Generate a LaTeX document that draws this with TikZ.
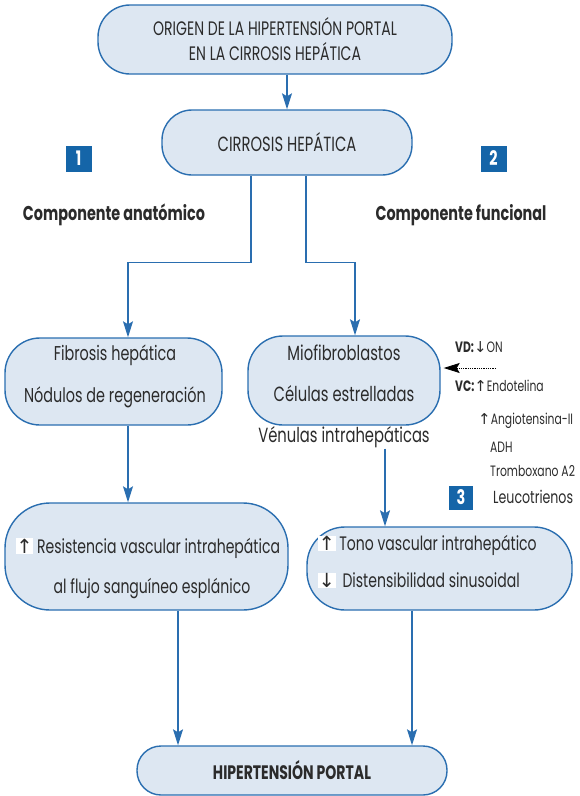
\documentclass[tikz,border=0pt]{standalone}
\usepackage{fontspec}
\setmainfont[FakeStretch=0.72]{Poppins}
\newfontfamily\symfont{DejaVu Sans}
\usepackage{tikz}
\usetikzlibrary{arrows.meta,positioning}
\definecolor{boxblue}{HTML}{2A6EB0}
\definecolor{boxbg}{HTML}{DDE7F2}
\definecolor{numblue}{HTML}{1565A8}
\definecolor{txtgray}{HTML}{2B2B2B}
\newcommand{\up}{{\symfont\char"2191}}
\newcommand{\dn}{{\symfont\char"2193}}
\newcommand{\wup}{\colorbox{white}{\up}}
\newcommand{\wdn}{\colorbox{white}{\dn}}

\begin{document}
\begin{tikzpicture}[x=1pt, y=-1pt,
      box/.style={draw=boxblue, fill=boxbg, line width=1.4pt,
                  rounded corners=#1, inner sep=0pt},
      box/.default=30pt,
      txt/.style={text=txtgray, align=center, inner sep=0pt},
      num/.style={fill=numblue, text=white, font=\fontsize{20}{20}\selectfont\bfseries,
                  minimum size=26pt, inner sep=0pt},
      side/.style={text=txtgray, anchor=west, inner sep=0pt,
                   font=\fontsize{15}{15}\selectfont},
      arr/.style={-{Stealth[length=16pt, width=10pt, inset=3pt]},
                  line width=1.2pt, color=boxblue},
      dotarr/.style={-{Stealth[length=16pt, width=10pt, inset=3pt]},
                     densely dotted, line width=0.8pt, color=black}
  ]
    \useasboundingbox (0,0) rectangle (579,796);
    \setlength{\fboxsep}{0.5pt}
    % main boxes
    \node[box=32pt, minimum width=354pt, minimum height=69pt, txt,
          font=\fontsize{19.5}{25}\selectfont] (top) at (275,39.5)
          {ORIGEN DE LA HIPERTENSIÓN PORTAL\\EN LA CIRROSIS HEPÁTICA};
    \node[box=30pt, minimum width=250pt, minimum height=65pt, txt,
          font=\fontsize{20.5}{20}\selectfont] (cirr) at (287,142.5) {CIRROSIS HEPÁTICA};
    \node[box=35pt, minimum width=217pt, minimum height=87pt] (fib) at (113.5,381.5) {};
    \node[box=35pt, minimum width=192pt, minimum height=89pt] (mio) at (344,380.5) {};
    \node[box=45pt, minimum width=283pt, minimum height=107pt] (resist) at (146.5,556.5) {};
    \node[box=38pt, minimum width=265pt, minimum height=83pt] (tono) at (439.5,568.5) {};
    \node[box=24pt, minimum width=310pt, minimum height=49pt, txt,
          font=\fontsize{19.5}{20}\selectfont\bfseries] (hp) at (292,770.5) {HIPERTENSIÓN PORTAL};
    % box texts
    \node[txt, font=\fontsize{20}{42}\selectfont] (fibtxt) at (115,376)
          {Fibrosis hepática\\Nódulos de regeneración};
    \node[txt, font=\fontsize{20.5}{41}\selectfont] (miotxt) at (344,396)
          {Miofibroblastos\\Células estrelladas\\Vénulas intrahepáticas};
    \node[txt, font=\fontsize{19.5}{40}\selectfont] (restxt) at (148,568)
          {\wup\ Resistencia vascular intrahepática\\\hspace*{8pt}al flujo sanguíneo esplánico};
    \node[txt, align=left, anchor=west, font=\fontsize{19.5}{37}\selectfont] (tonotxt) at (318,561.5)
          {\wup\ Tono vascular intrahepático\\\wdn\ \,Distensibilidad sinusoidal};
    % numbers and headings
    \node[num] (n1) at (78.5,158.5) {1};
    \node[num] (n2) at (493.5,158.5) {2};
    \node[num, minimum size=24pt] (n3) at (461,497.5) {3};
    \node[txt, font=\fontsize{20}{20}\selectfont\bfseries] (anat) at (114,215) {Componente anatómico};
    \node[txt, font=\fontsize{20}{20}\selectfont\bfseries] (func) at (461,215) {Componente funcional};
    % mediators
    \node[side] (vd) at (455,347) {\textbf{VD:}\dn ON};
    \node[side] (vc) at (455,386) {\textbf{VC:}\up Endotelina};
    \node[side] (ang) at (478,421) {\up Angiotensina-II};
    \node[side] (adh) at (490,447) {ADH};
    \node[side] (tbx) at (490,471) {Tromboxano A2};
    \node[side, font=\fontsize{17.5}{17}\selectfont] (leu) at (493,497) {Leucotrienos};
    \coordinate (sig) at (496,368);
    % connectors
    \draw[arr] (cirr.north |- top.south) -- (cirr.north);
    \draw[arr] ([xshift=-36pt]cirr.south) -- ++(0,87) -| ([xshift=14.5pt]fib.north);
    \draw[arr] ([xshift=19pt]cirr.south) -- ++(0,87) -| ([xshift=11pt]mio.north);
    \draw[arr] ([xshift=14.5pt]fib.south) -- ([xshift=14.5pt]fib.south |- resist.north);
    \draw[arr] ([xshift=41pt,yshift=-23pt]mio.south) -- ([xshift=41pt]mio.south |- tono.north);
    \draw[arr] ([xshift=31.5pt]resist.south) -- ([xshift=31.5pt]resist.south |- hp.north);
    \draw[arr] ([xshift=-27.5pt]tono.south) -- ([xshift=-27.5pt]tono.south |- hp.north);
    \draw[dotarr] (sig) -- ([xshift=3pt]mio.east |- sig);
  \end{tikzpicture}
\end{document}
